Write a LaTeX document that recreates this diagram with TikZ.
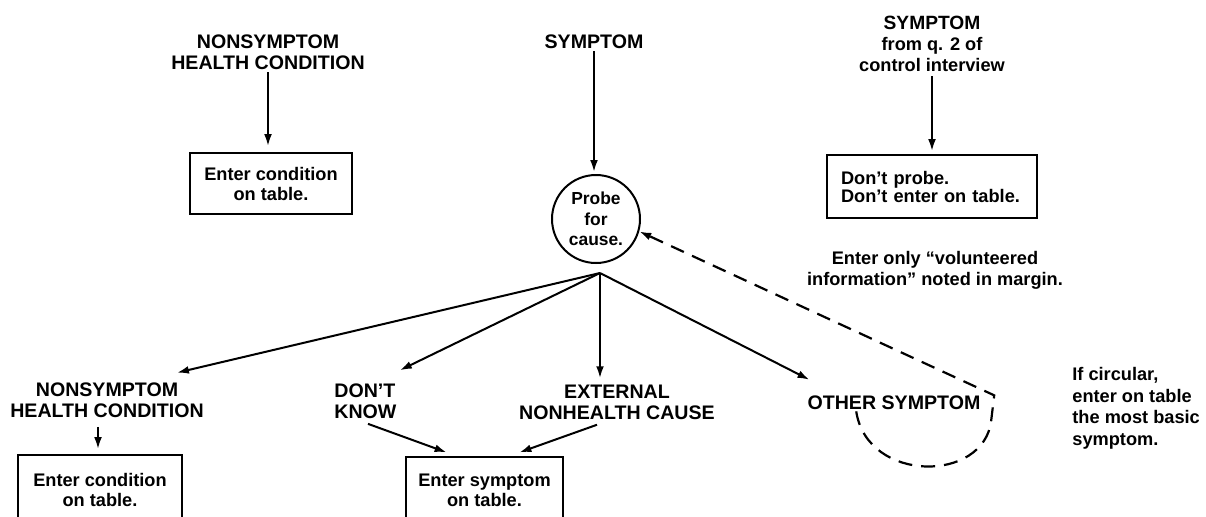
\documentclass[tikz,border=0pt]{standalone}
\usepackage{fontspec}
\setmainfont{Liberation Sans}
\usetikzlibrary{arrows.meta,calc}
\begin{document}
\begin{tikzpicture}[x=0.5pt,y=-0.5pt,
  lbl/.style={font=\bfseries\fontsize{9.8}{10.5}\selectfont, align=center, inner sep=0pt},
  small/.style={font=\bfseries\fontsize{9.1}{10.5}\selectfont, align=center, inner sep=0pt},
  boxnode/.style={draw, line width=0.9pt, font=\bfseries\fontsize{9.1}{10}\selectfont, align=center, inner sep=0pt},
  arr/.style={line width=1pt, -{Latex[length=6pt,width=3.9pt]}, shorten >=1pt},
  dashline/.style={line width=1.1pt, dash pattern=on 7pt off 4.5pt}]
\useasboundingbox (0,0) rectangle (1206,516);
\clip (0,0) rectangle (1206,516);

% top row
\node[lbl] (ns1) at (268,52.5) {NONSYMPTOM\\HEALTH CONDITION};
\node[boxnode, minimum width=81pt, minimum height=30.5pt] (b1) at (271,183.5) {Enter condition\\on table.};
\node[lbl] (sym) at (594,42) {SYMPTOM};
\node[circle, draw, line width=1pt, minimum size=44pt, inner sep=0pt,
      font=\bfseries\fontsize{8.7}{10.3}\selectfont, align=center] (probe) at (596,219) {Probe\\for\\cause.};
\node[small] (sym2) at (932,44) {{\fontsize{9.6}{10.5}\selectfont SYMPTOM}\\from q. 2 of\\control interview};
\node[draw, line width=0.9pt, minimum height=31.5pt, inner xsep=7pt, inner ysep=0pt, text width=91pt,
      align=left, font=\bfseries\fontsize{9.1}{9}\selectfont] (b2) at (932,186.5) {Don’t probe.\\Don’t enter on table.};
\node[small] (n1) at (935,270) {Enter only “volunteered\\information” noted in margin.};

\coordinate (F) at (600,273);

% bottom row
\node[lbl] (ns2) at (107,400) {NONSYMPTOM\\HEALTH CONDITION};
\node[lbl, align=left, anchor=west] (dk) at (334,401) {DON’T\\KNOW};
\node[lbl] (ext) at (617,402) {EXTERNAL\\NONHEALTH CAUSE};
\node[lbl] (os) at (894,403) {OTHER SYMPTOM};
\node[small, align=left, anchor=north west, font=\bfseries\fontsize{9.1}{10.8}\selectfont] (n2) at (1072,367) {If circular,\\enter on table\\the most basic\\symptom.};
\node[boxnode, minimum width=82pt, minimum height=35pt] (b3) at (100,490) {Enter condition\\on table.};
\node[boxnode, minimum width=78.5pt, minimum height=33.5pt] (b4) at (484.5,490.5) {Enter symptom\\on table.};

% connectors
\draw[arr, shorten <=1pt, shorten >=3pt] (ns1.south) -- (ns1.south |- b1.north);
\draw[arr, shorten <=1pt, shorten >=1pt] (sym.south) -- (sym.south |- probe.north);
\draw[arr, shorten <=2pt, shorten >=1.5pt] (sym2.south) -- (sym2.south |- b2.north);

\draw[arr] (F) -- ($(ns2.north)+(68,-9)$);
\draw[arr] (F) -- ($(dk.north west)+(64,-12)$);
\draw[arr, shorten >=3pt] (F) -- (F |- ext.north);
\draw[arr] (F) -- ($(os.north west)+(4,-15)$);

\draw[arr] ($(ns2.south)+(-9,9)$) -- ($(b3.north)+(-2,-3)$);
\draw[arr] ($(dk.south west)+(34,5)$) -- ($(b4.north)+(-36,-3)$);
\draw[arr] ($(ext.south)+(-20,5)$) -- ($(b4.north)+(33,-3)$);

\coordinate (lp) at ($(os.south west)+(49,1)$);
\coordinate (lb) at ($(lp)+(135,9)$);
\coordinate (lc) at ($(lp)+(138,-16)$);
\draw[dashline, -{Latex[length=6pt,width=3.9pt]}] (lp) .. controls +(11,72) and +(-7,63) .. (lb) -- (lc) -- (probe.-16);
\end{tikzpicture}
\end{document}
